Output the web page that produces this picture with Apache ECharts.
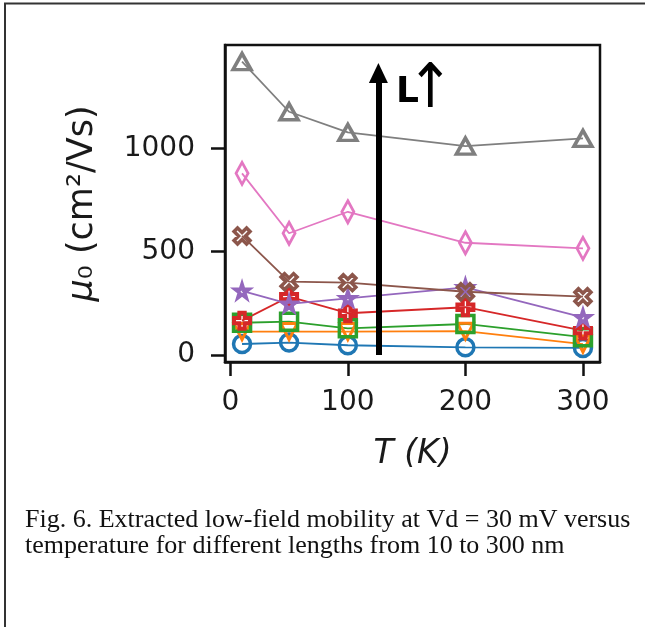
<!DOCTYPE html>
<html>
<head>
<meta charset="utf-8">
<script src="https://cdn.jsdelivr.net/npm/echarts@6/dist/echarts.min.js"></script>
<style>
  html, body { margin: 0; padding: 0; background: #fff; }
  #main { width: 645px; height: 627px; }
</style>
</head>
<body>
<div id="main"></div>
<script>
// temperatures (K)
var temps = [10, 50, 100, 200, 300];
// low-field mobility (cm2/Vs), one list per channel length, short -> long
var mu1 = [53, 60, 47, 37, 34];
var mu2 = [113, 113, 113, 115, 53];
var mu3 = [156, 161, 129, 150, 86];
var mu4 = [166, 282, 202, 231, 118];
var mu5 = [310, 247, 274, 327, 182];
var mu6 = [576, 355, 350, 306, 282];
var mu7 = [879, 589, 693, 543, 516];
var mu8 = [1420, 1177, 1077, 1011, 1048];
var xTicks = [0, 100, 200, 300];
var yTicks = [0, 500, 1000];
// the "L increases" arrow, in data units
var arrowT = 126;
var arrowFrom = 0;
var arrowTo = 1364;

var colors = ['#1f77b4', '#ff7f0e', '#2ca02c', '#d62728', '#9467bd', '#8c564b', '#e377c2', '#7f7f7f'];
var symbols = [
  'circle',
  'path://M0,0 L2,0 L1,2 Z',
  'rect',
  'path://M1,0 H2 V1 H3 V2 H2 V3 H1 V2 H0 V1 H1 Z',
  'path://M50,0 L61.2,34.5 L97.6,34.5 L68.2,55.9 L79.4,90.5 L50,69.1 L20.6,90.5 L31.8,55.9 L2.4,34.5 L38.8,34.5 Z',
  'path://M0,1.3 L1.3,0 L3,1.7 L4.7,0 L6,1.3 L4.3,3 L6,4.7 L4.7,6 L3,4.3 L1.3,6 L0,4.7 L1.7,3 Z',
  'diamond',
  'triangle'
];
var sizes = [17, 16, 17, 16, 14, 16, [12, 22], [18, 16]];
var borders = [3.5, 3, 3.5, 4, 3.5, 3.5, 3, 3.5];

var myChart = echarts.init(document.getElementById('main'));

var allMu = [mu1, mu2, mu3, mu4, mu5, mu6, mu7, mu8];
var series = allMu.map(function (vals, i) {
  return {
    name: 'L' + (i + 1),
    type: 'line',
    data: temps.map(function (t, j) { return [t, vals[j]]; }),
    symbol: symbols[i],
    symbolSize: sizes[i],
    showAllSymbol: true,
    lineStyle: { color: colors[i], width: 1.8 },
    itemStyle: { color: 'rgba(0,0,0,0)', borderColor: colors[i], borderWidth: borders[i] },
    emphasis: { disabled: true },
    animation: false
  };
});

// black arrow
series.push({
  name: 'arrow',
  type: 'line',
  data: [],
  animation: false,
  markLine: {
    silent: true,
    animation: false,
    symbol: ['none', 'triangle'],
    symbolSize: [19, 20],
    label: { show: false },
    lineStyle: { color: '#000', width: 6, type: 'solid' },
    data: [[{ coord: [arrowT, arrowFrom] }, { coord: [arrowT, arrowTo] }]]
  }
});

var tickText = function (v) { return String(v); };

myChart.setOption({
  backgroundColor: '#fff',
  grid: {
    left: 225, right: 45, top: 45, bottom: 265,
    show: true, borderColor: '#111', borderWidth: 2.5,
    outerBoundsMode: 'none'
  },
  xAxis: {
    type: 'value',
    min: -4.5, max: 314.5,
    splitLine: { show: false },
    axisLine: { show: true, onZero: false, lineStyle: { color: '#111', width: 2.5 } },
    axisTick: { show: true, customValues: xTicks, length: 14, lineStyle: { color: '#111', width: 2.5 } },
    axisLabel: { customValues: xTicks, formatter: tickText, margin: 27, fontSize: 28, fontFamily: 'DejaVu Sans', color: '#1a1a1a' },
    name: 'T (K)',
    nameLocation: 'middle',
    nameGap: 76,
    nameTextStyle: { fontSize: 33, fontStyle: 'italic', fontFamily: 'DejaVu Sans', color: '#1a1a1a' }
  },
  yAxis: {
    type: 'value',
    min: -34, max: 1500,
    splitLine: { show: false },
    axisLine: { show: true, onZero: false, lineStyle: { color: '#111', width: 2.5 } },
    axisTick: { show: true, customValues: yTicks, length: 14, lineStyle: { color: '#111', width: 2.5 } },
    axisLabel: { customValues: yTicks, formatter: tickText, margin: 30, fontSize: 28, fontFamily: 'DejaVu Sans', color: '#1a1a1a' },
    name: '{i|μ}₀ (cm²/Vs)',
    nameLocation: 'middle',
    nameRotate: 90,
    nameGap: 125,
    nameTextStyle: {
      fontSize: 35, fontFamily: 'DejaVu Sans', color: '#1a1a1a',
      rich: { i: { fontSize: 35, fontStyle: 'italic', fontFamily: 'DejaVu Sans', color: '#1a1a1a' } }
    }
  },
  graphic: [
    { type: 'polyline', shape: { points: [[5, 627], [5, 3.5], [645, 3.5]] }, style: { stroke: '#333', lineWidth: 2, fill: null } },
    { type: 'text', x: 396, y: 92.5, style: { text: 'L', font: 'bold 36px "DejaVu Sans"', fill: '#000', textVerticalAlign: 'middle' } },
    { type: 'text', x: 430.5, y: 91.4, scaleY: 1.1, style: { text: '↑', font: '56px "DejaVu Sans"', fill: '#000', textAlign: 'center', textVerticalAlign: 'middle' } },
    { type: 'text', x: 25, y: 520, style: { text: 'Fig. 6. Extracted low-field mobility at Vd = 30 mV versus', font: '26px "Liberation Serif"', fill: '#111', textVerticalAlign: 'middle' } },
    { type: 'text', x: 25, y: 546, style: { text: 'temperature for different lengths from 10 to 300 nm', font: '26px "Liberation Serif"', fill: '#111', textVerticalAlign: 'middle' } }
  ],
  series: series
});

window.onresize = function () {
  myChart.resize();
};
</script>
</body>
</html>
